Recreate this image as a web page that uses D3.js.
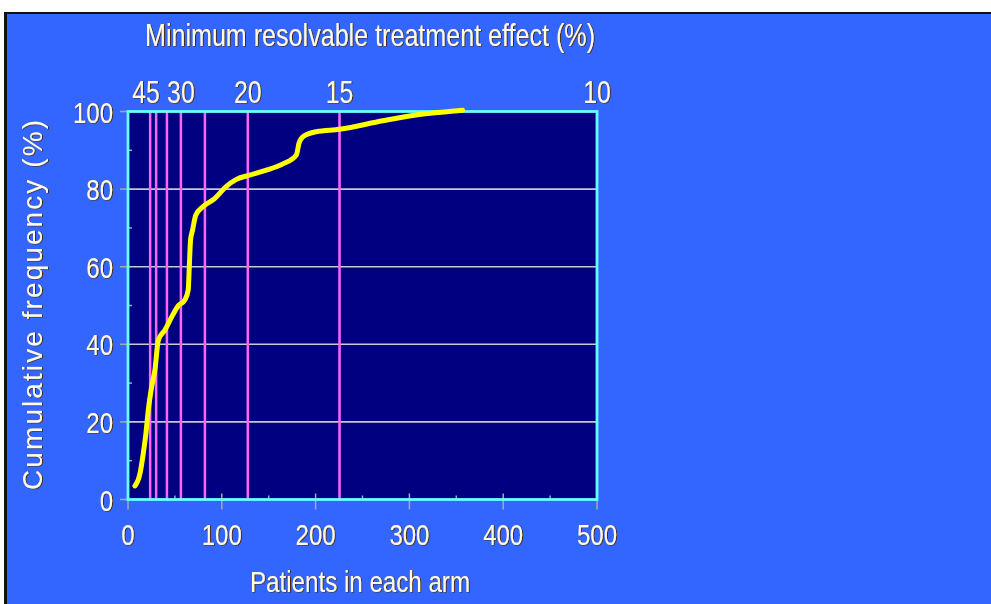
<!DOCTYPE html>
<html>
<head>
<meta charset="utf-8">
<script src="https://cdn.jsdelivr.net/npm/d3@7"></script>
<style>
html,body{margin:0;padding:0;background:#fff;}
svg{display:block;}
text{font-family:"Liberation Sans",Arial,sans-serif;fill:#fffbe6;}
</style>
</head>
<body>
<svg id="chart" width="991" height="604"></svg>
<script>
// ---- data ----
const patients = [7.4, 12.8, 16.3, 19.1, 21.6, 25.2, 28.7, 32.3, 39.4, 46.5, 53.5, 60.6, 64.2, 65.2, 66.7, 68.8, 72.3, 80.1, 92.6, 104.3, 115.6, 129.8, 147.5, 165.2, 179.5, 182.3, 186.5, 200.7, 225.5, 271.6, 307, 342.5, 356.7];
const cumFreq  = [3.5, 6.7, 11.9, 17, 23, 29, 33.4, 41, 43.7, 47, 49.9, 51.4, 54, 59.1, 66.9, 69.4, 73.3, 75.5, 77.6, 80.6, 82.5, 83.6, 84.9, 86.5, 88.8, 91.8, 93.5, 94.8, 95.4, 97.6, 99.1, 100, 100.3];
const effects      = [45, 40, 35, 30, 25, 20, 15, 10];
const effectN      = [23.6, 30, 41.5, 56.4, 82, 127.7, 225.5, 500];
const effectLabels = ["45", "", "", "30", "", "20", "15", "10"];
const xTicks = [0, 100, 200, 300, 400, 500];
const xMinor = [50, 150, 250, 350, 450];
const yTicks = [0, 20, 40, 60, 80, 100];
const yMinor = [10, 30, 50, 70, 90];
const gridY  = [20, 40, 60, 80];
const titleTop = "Minimum resolvable treatment effect (%)";
const titleX = "Patients in each arm";
const titleY = "Cumulative frequency (%)";

const svg = d3.select("#chart");
const defs = svg.append("defs");
const f = defs.append("filter").attr("id","sh").attr("x","-5%").attr("y","-5%").attr("width","110%").attr("height","110%");
f.append("feDropShadow").attr("dx",1).attr("dy",0.5).attr("stdDeviation",0.3).attr("flood-color","#4a2808").attr("flood-opacity",1);

// frame background
svg.append("rect").attr("x",4).attr("y",12).attr("width",991).attr("height",600).attr("fill","#111");
svg.append("rect").attr("x",7).attr("y",14).attr("width",991).attr("height",600).attr("fill","#3366ff");

const L = 128, R = 597, T = 111.5, B = 499.5;
const x = d3.scaleLinear().domain([0,500]).range([L,R]);
const y = d3.scaleLinear().domain([0,100]).range([B,T]);

svg.append("rect").attr("x",L).attr("y",T).attr("width",R-L).attr("height",B-T).attr("fill","#000080");

// grid
svg.append("g").selectAll("line").data(gridY).join("line")
  .attr("x1",L).attr("x2",R).attr("y1",d=>y(d)).attr("y2",d=>y(d))
  .attr("stroke","#c8c8d0").attr("stroke-width",1.6);

// ticks
const tc = "#a8a8b0";
svg.append("g").selectAll("line").data(yTicks).join("line")
  .attr("x1",L-8).attr("x2",L).attr("y1",d=>y(d)).attr("y2",d=>y(d)).attr("stroke",tc).attr("stroke-width",1.5);
svg.append("g").selectAll("line").data(yMinor).join("line")
  .attr("x1",L).attr("x2",L+4).attr("y1",d=>y(d)).attr("y2",d=>y(d)).attr("stroke",tc).attr("stroke-width",1.5);
svg.append("g").selectAll("line").data(xTicks).join("line")
  .attr("x1",d=>x(d)).attr("x2",d=>x(d)).attr("y1",B-6).attr("y2",B+10).attr("stroke",tc).attr("stroke-width",1.5);
svg.append("g").selectAll("line").data(xMinor).join("line")
  .attr("x1",d=>x(d)).attr("x2",d=>x(d)).attr("y1",B-4).attr("y2",B).attr("stroke",tc).attr("stroke-width",1.5);

// magenta effect lines
svg.append("g").selectAll("line").data(effectN.filter(n=>n<500)).join("line")
  .attr("x1",d=>x(d)).attr("x2",d=>x(d)).attr("y1",T).attr("y2",B)
  .attr("stroke","#ff66ff").attr("stroke-width",2.5);

// frame
svg.append("rect").attr("x",L).attr("y",T).attr("width",R-L).attr("height",B-T)
  .attr("fill","none").attr("stroke","#66ffff").attr("stroke-width",2.8);

// curve
const pts = patients.map((p,i)=>[p,cumFreq[i]]);
svg.append("path").datum(pts)
  .attr("d", d3.line().x(d=>x(d[0])).y(d=>y(d[1])).curve(d3.curveMonotoneX))
  .attr("fill","none").attr("stroke","#ffff00").attr("stroke-width",5).attr("stroke-linecap","round").attr("stroke-linejoin","round");

// text
const tg = svg.append("g").attr("filter","url(#sh)");
function condense(sel, k){ sel.each(function(){ const w=this.getComputedTextLength(); d3.select(this).attr("textLength",w*k).attr("lengthAdjust","spacingAndGlyphs"); }); }

const yl = tg.append("g").selectAll("text").data(yTicks).join("text")
  .attr("x",113).attr("y",d=>y(d)+11).attr("text-anchor","end").attr("font-size",30).text(d=>d);
condense(yl,0.8);
const xl = tg.append("g").selectAll("text").data(xTicks).join("text")
  .attr("x",d=>x(d)).attr("y",545).attr("text-anchor","middle").attr("font-size",30).text(d=>d);
condense(xl,0.8);
const el = tg.append("g").selectAll("text").data(effects.map((e,i)=>({n:effectN[i],t:effectLabels[i]})).filter(d=>d.t)).join("text")
  .attr("x",d=>x(d.n)-(d.t==="45"?4:0)).attr("y",103).attr("text-anchor","middle").attr("font-size",31).text(d=>d.t);
condense(el,0.8);

tg.append("text").attr("x",370).attr("y",46).attr("text-anchor","middle").attr("font-size",32)
  .attr("textLength",450).attr("lengthAdjust","spacingAndGlyphs").text(titleTop);
tg.append("text").attr("x",360).attr("y",592).attr("text-anchor","middle").attr("font-size",30)
  .attr("textLength",220).attr("lengthAdjust","spacingAndGlyphs").text(titleX);
tg.append("text").attr("transform","translate(42,305) rotate(-90)").attr("text-anchor","middle").attr("font-size",28)
  .attr("textLength",370).attr("lengthAdjust","spacing").text(titleY);
</script>
</body>
</html>
